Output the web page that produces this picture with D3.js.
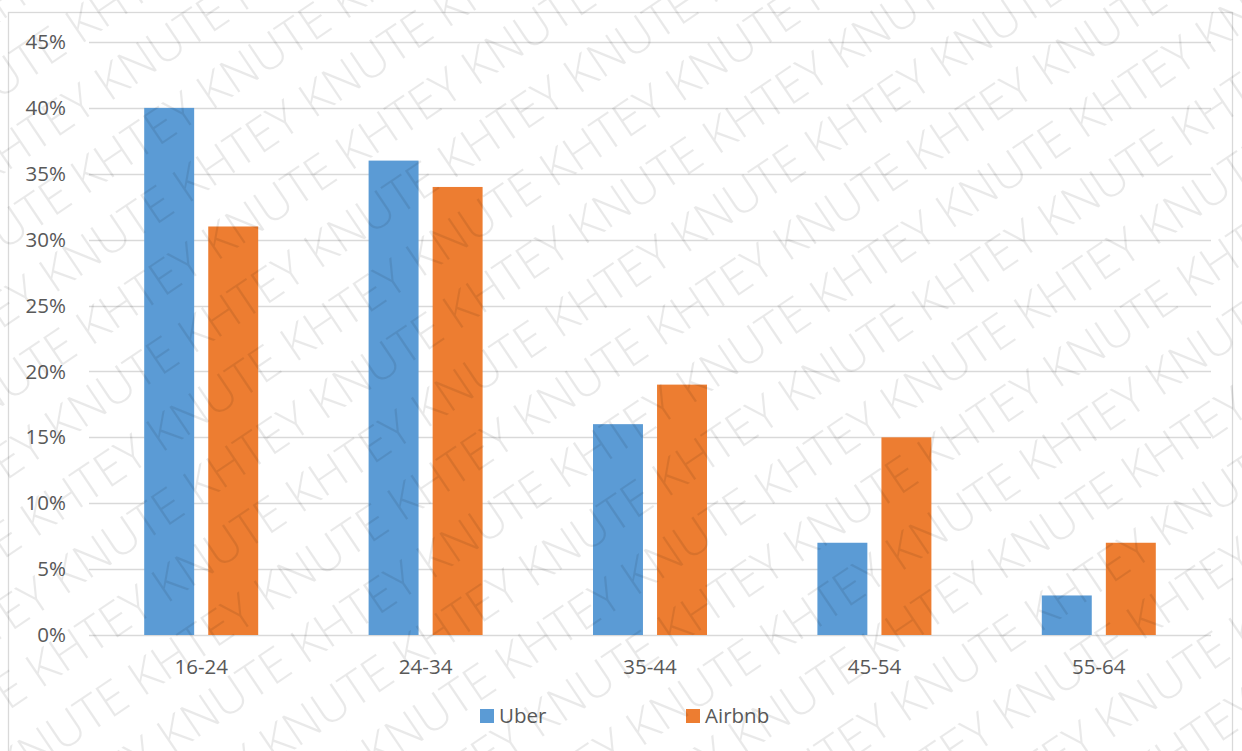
<!DOCTYPE html>
<html>
<head>
<meta charset="utf-8">
<script src="https://cdn.jsdelivr.net/npm/d3@7"></script>
<style>
  body { margin: 0; background: #fff; }
  svg { display: block; font-family: "Open Sans", sans-serif; }
</style>
</head>
<body>
<div id="container"></div>
<script>
// ---------------- data ----------------
const ageGroups = ["16-24", "24-34", "35-44", "45-54", "55-64"];
const seriesNames = ["Uber", "Airbnb"];
const uberValues = [0.40, 0.36, 0.16, 0.07, 0.03];
const airbnbValues = [0.31, 0.34, 0.19, 0.15, 0.07];
const yTicks = [0, 0.05, 0.10, 0.15, 0.20, 0.25, 0.30, 0.35, 0.40, 0.45];
const watermark = "KHTEY KNUTE";

// ---------------- setup ----------------
const width = 1242, height = 751;
const colors = { Uber: "#5B9BD5", Airbnb: "#ED7D31" };
const plot = { left: 89, right: 1211, top: 42, bottom: 635 };
const labelSize = "20.5px";

const svg = d3.select("#container").append("svg")
    .attr("width", width)
    .attr("height", height);

// chart border (runs off the bottom of the picture)
svg.append("rect")
    .attr("x", 8.5).attr("y", 12.5)
    .attr("width", 1224).attr("height", 760)
    .attr("fill", "#fff")
    .attr("stroke", "#d9d9d9")
    .attr("stroke-width", 1.3);

// ---------------- scales ----------------
const x0 = d3.scaleBand()
    .domain(ageGroups)
    .range([plot.left, plot.right])
    .paddingInner(0.492)
    .paddingOuter(0.246);

const x1 = d3.scaleBand()
    .domain(seriesNames)
    .range([0, x0.bandwidth()])
    .paddingInner(0.22);

const y = d3.scaleLinear()
    .domain([0, 0.45])
    .range([plot.bottom, plot.top]);

// ---------------- grid ----------------
svg.append("g")
    .selectAll("line")
    .data(yTicks)
    .enter()
    .append("line")
    .attr("x1", plot.left).attr("x2", plot.right)
    .attr("y1", d => Math.round(y(d)) + 0.5)
    .attr("y2", d => Math.round(y(d)) + 0.5)
    .attr("stroke", "#d9d9d9")
    .attr("stroke-width", 1.3);

// y axis labels
const yAxis = d3.axisLeft(y)
    .tickValues(yTicks)
    .tickFormat(d3.format(".0%"))
    .tickSize(0)
    .tickPadding(0);

const gy = svg.append("g")
    .attr("transform", "translate(66,0)")
    .call(yAxis);
gy.select(".domain").remove();
gy.selectAll("text")
    .attr("fill", "#595959")
    .style("font-size", labelSize)
    .style("font-family", "'Open Sans', sans-serif");

// x axis labels
const xAxis = d3.axisBottom(x0).tickSize(0).tickPadding(0);
const gx = svg.append("g")
    .attr("transform", "translate(0,659)")
    .call(xAxis);
gx.select(".domain").remove();
gx.selectAll("text")
    .attr("fill", "#595959")
    .style("font-size", labelSize)
    .style("font-family", "'Open Sans', sans-serif");

// ---------------- bars ----------------
const rows = ageGroups.map((g, i) => ({ group: g, Uber: uberValues[i], Airbnb: airbnbValues[i] }));

const groups = svg.append("g")
    .selectAll("g")
    .data(rows)
    .enter()
    .append("g")
    .attr("transform", d => "translate(" + x0(d.group) + ",0)");

groups.selectAll("rect")
    .data(d => seriesNames.map(s => ({ key: s, value: d[s] })))
    .enter()
    .append("rect")
    .attr("x", d => x1(d.key))
    .attr("width", x1.bandwidth())
    .attr("y", d => y(d.value))
    .attr("height", d => y(0) - y(d.value))
    .attr("fill", d => colors[d.key]);

// ---------------- legend ----------------
const legendPos = [480, 686];
const legend = svg.append("g")
    .selectAll("g")
    .data(seriesNames)
    .enter()
    .append("g")
    .attr("transform", (d, i) => "translate(" + legendPos[i] + ",709)");

legend.append("rect")
    .attr("width", 14).attr("height", 14)
    .attr("fill", d => colors[d]);

legend.append("text")
    .attr("x", 19).attr("y", 14)
    .attr("fill", "#595959")
    .style("font-size", labelSize)
    .text(d => d);

// ---------------- watermark ----------------
const wm = svg.append("g")
    .attr("pointer-events", "none")
    .attr("transform", "translate(621,375) rotate(-34)");

const line = d3.range(6).map(() => watermark).join(" ");
wm.selectAll("text")
    .data(d3.range(-12, 13))
    .enter()
    .append("text")
    .attr("x", d => -1050 + ((d + 20) % 3) * 80)
    .attr("y", d => d * 64)
    .attr("fill", "#000")
    .attr("fill-opacity", 0.085)
    .style("font-size", "48px")
    .style("font-weight", 300)
    .style("font-family", "'Open Sans', sans-serif")
    .text(line);
</script>
</body>
</html>
